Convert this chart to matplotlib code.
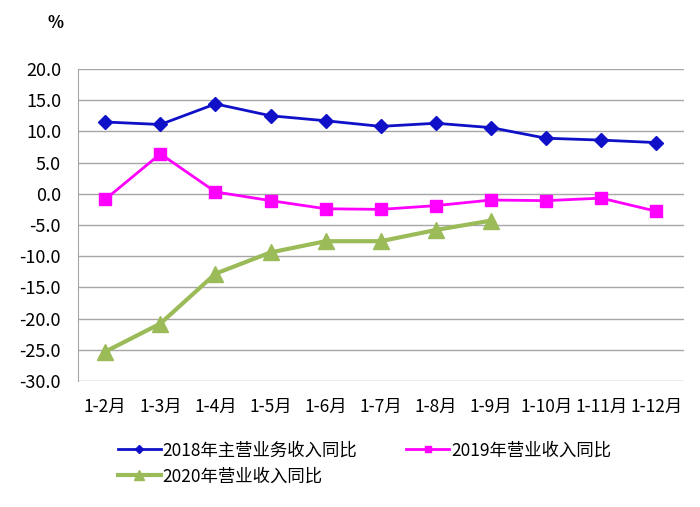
import matplotlib
matplotlib.use("Agg")
import matplotlib.pyplot as plt

plt.rcParams['font.family'] = ['Noto Sans CJK SC', 'DejaVu Sans']

months = ["1-2月", "1-3月", "1-4月", "1-5月", "1-6月", "1-7月",
          "1-8月", "1-9月", "1-10月", "1-11月", "1-12月"]
rev_2018 = [11.5, 11.1, 14.4, 12.5, 11.7, 10.8, 11.3, 10.6, 8.9, 8.6, 8.2]
rev_2019 = [-0.9, 6.4, 0.3, -1.1, -2.4, -2.5, -1.9, -1.0, -1.1, -0.7, -2.8]
rev_2020 = [-25.3, -20.8, -12.8, -9.4, -7.6, -7.6, -5.8, -4.3]
yticks = [20, 15, 10, 5, 0, -5, -10, -15, -20, -25, -30]

fig = plt.figure(figsize=(7, 5.07), dpi=100)
ax = fig.add_axes([0.111, 0.2485, 0.866, 0.6155])

x = list(range(len(months)))

l1, = ax.plot(x, rev_2018, color="#1010C8", lw=2, marker="D", ms=7,
              label="2018年主营业务收入同比", zorder=3)
l2, = ax.plot(x, rev_2019, color="#FF00FF", lw=2, marker="s", ms=8,
              label="2019年营业收入同比", zorder=3)
l3, = ax.plot(x[:len(rev_2020)], rev_2020, color="#9BBB59", lw=3, marker="^", ms=12,
              label="2020年营业收入同比", zorder=3)

ax.set_xlim(-0.5, len(months) - 0.5)
ax.set_ylim(-30, 20)
ax.set_yticks(yticks)
ax.set_yticklabels([f"{v:.1f}" for v in yticks], fontsize=13)
ax.set_xticks(x)
ax.set_xticklabels(months, fontsize=12.5)
ax.tick_params(length=0)
ax.tick_params(axis='y', pad=12)
ax.tick_params(axis='x', pad=12)

ax.grid(axis='y', color="#A6A6A6", lw=1)
ax.set_axisbelow(True)
for s in ["top", "right", "bottom"]:
    ax.spines[s].set_visible(False)
ax.spines["left"].set_color("#A6A6A6")

fig.text(0.079, 0.955, "%", fontsize=12, fontweight="bold", ha="center", va="center")

leg = fig.legend([l1, l3, l2],
                 [l1.get_label(), l3.get_label(), l2.get_label()],
                 ncol=2, loc="upper left", bbox_to_anchor=(0.158, 0.143),
                 frameon=False, fontsize=12.5, handlelength=2.5,
                 columnspacing=2.8, labelspacing=0.45, markerscale=0.6,
                 handletextpad=0.1, borderaxespad=0)

fig.savefig("out.png", dpi=100, facecolor="white")
